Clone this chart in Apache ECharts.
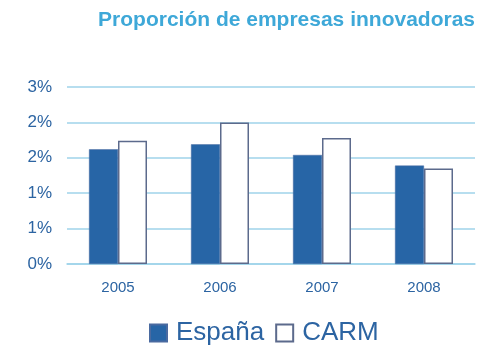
<!DOCTYPE html>
<html>
<head>
<meta charset="utf-8">
<style>
  html, body { margin: 0; padding: 0; background: #ffffff; }
  #chart { width: 485px; height: 351px; }
</style>
<script src="https://cdn.jsdelivr.net/npm/echarts@6/dist/echarts.min.js"></script>
</head>
<body>
<div id="chart"></div>
<script>
// Share of innovative companies (%), Spain vs. Region of Murcia
const years = ['2005', '2006', '2007', '2008'];
const espana = [1.62, 1.69, 1.54, 1.39];
const carm = [1.74, 2.00, 1.78, 1.35];

const chart = echarts.init(document.getElementById('chart'), null, { renderer: 'canvas' });
const blueText = '#2c64a2';

chart.setOption({
  animation: false,
  title: {
    text: 'Proporción de empresas innovadoras',
    right: 5,
    top: 5,
    textStyle: { fontFamily: 'Liberation Sans', fontSize: 21, fontWeight: 'bold', color: '#3ea8d8' }
  },
  legend: {
    bottom: 0,
    left: 144,
    itemWidth: 17,
    itemHeight: 17,
    itemGap: 11,
    textStyle: { fontFamily: 'Liberation Sans', fontSize: 26, color: blueText, padding: [0, 0, 0, 4] },
    data: [
      { name: 'España', icon: 'rect' },
      { name: 'CARM', icon: 'rect' }
    ]
  },
  grid: { left: 67, right: 10, top: 87, bottom: 87 },
  xAxis: {
    type: 'category',
    data: years,
    axisLine: { show: true, lineStyle: { color: '#9fd3ea', width: 1.5 } },
    axisTick: { show: false },
    axisLabel: { fontFamily: 'Liberation Sans', fontSize: 15, color: blueText, margin: 16 }
  },
  yAxis: {
    type: 'value',
    min: 0,
    max: 2.5,
    interval: 0.5,
    axisLine: { show: false },
    axisTick: { show: false },
    splitLine: { lineStyle: { color: '#9fd3ea', width: 1.5 } },
    axisLabel: {
      fontFamily: 'Liberation Sans',
      fontSize: 17,
      color: blueText,
      margin: 15,
      formatter: v => Math.round(v) + '%'
    }
  },
  series: [
    {
      name: 'España',
      type: 'bar',
      data: espana,
      barWidth: 29,
      barGap: '0%',
      itemStyle: { color: '#2765a6', borderColor: '#4a6aa0', borderWidth: 0.5 }
    },
    {
      name: 'CARM',
      type: 'bar',
      data: carm,
      barWidth: 29,
      itemStyle: { color: '#ffffff', borderColor: '#5c6a8c', borderWidth: 1.5 }
    }
  ]
});
</script>
</body>
</html>
